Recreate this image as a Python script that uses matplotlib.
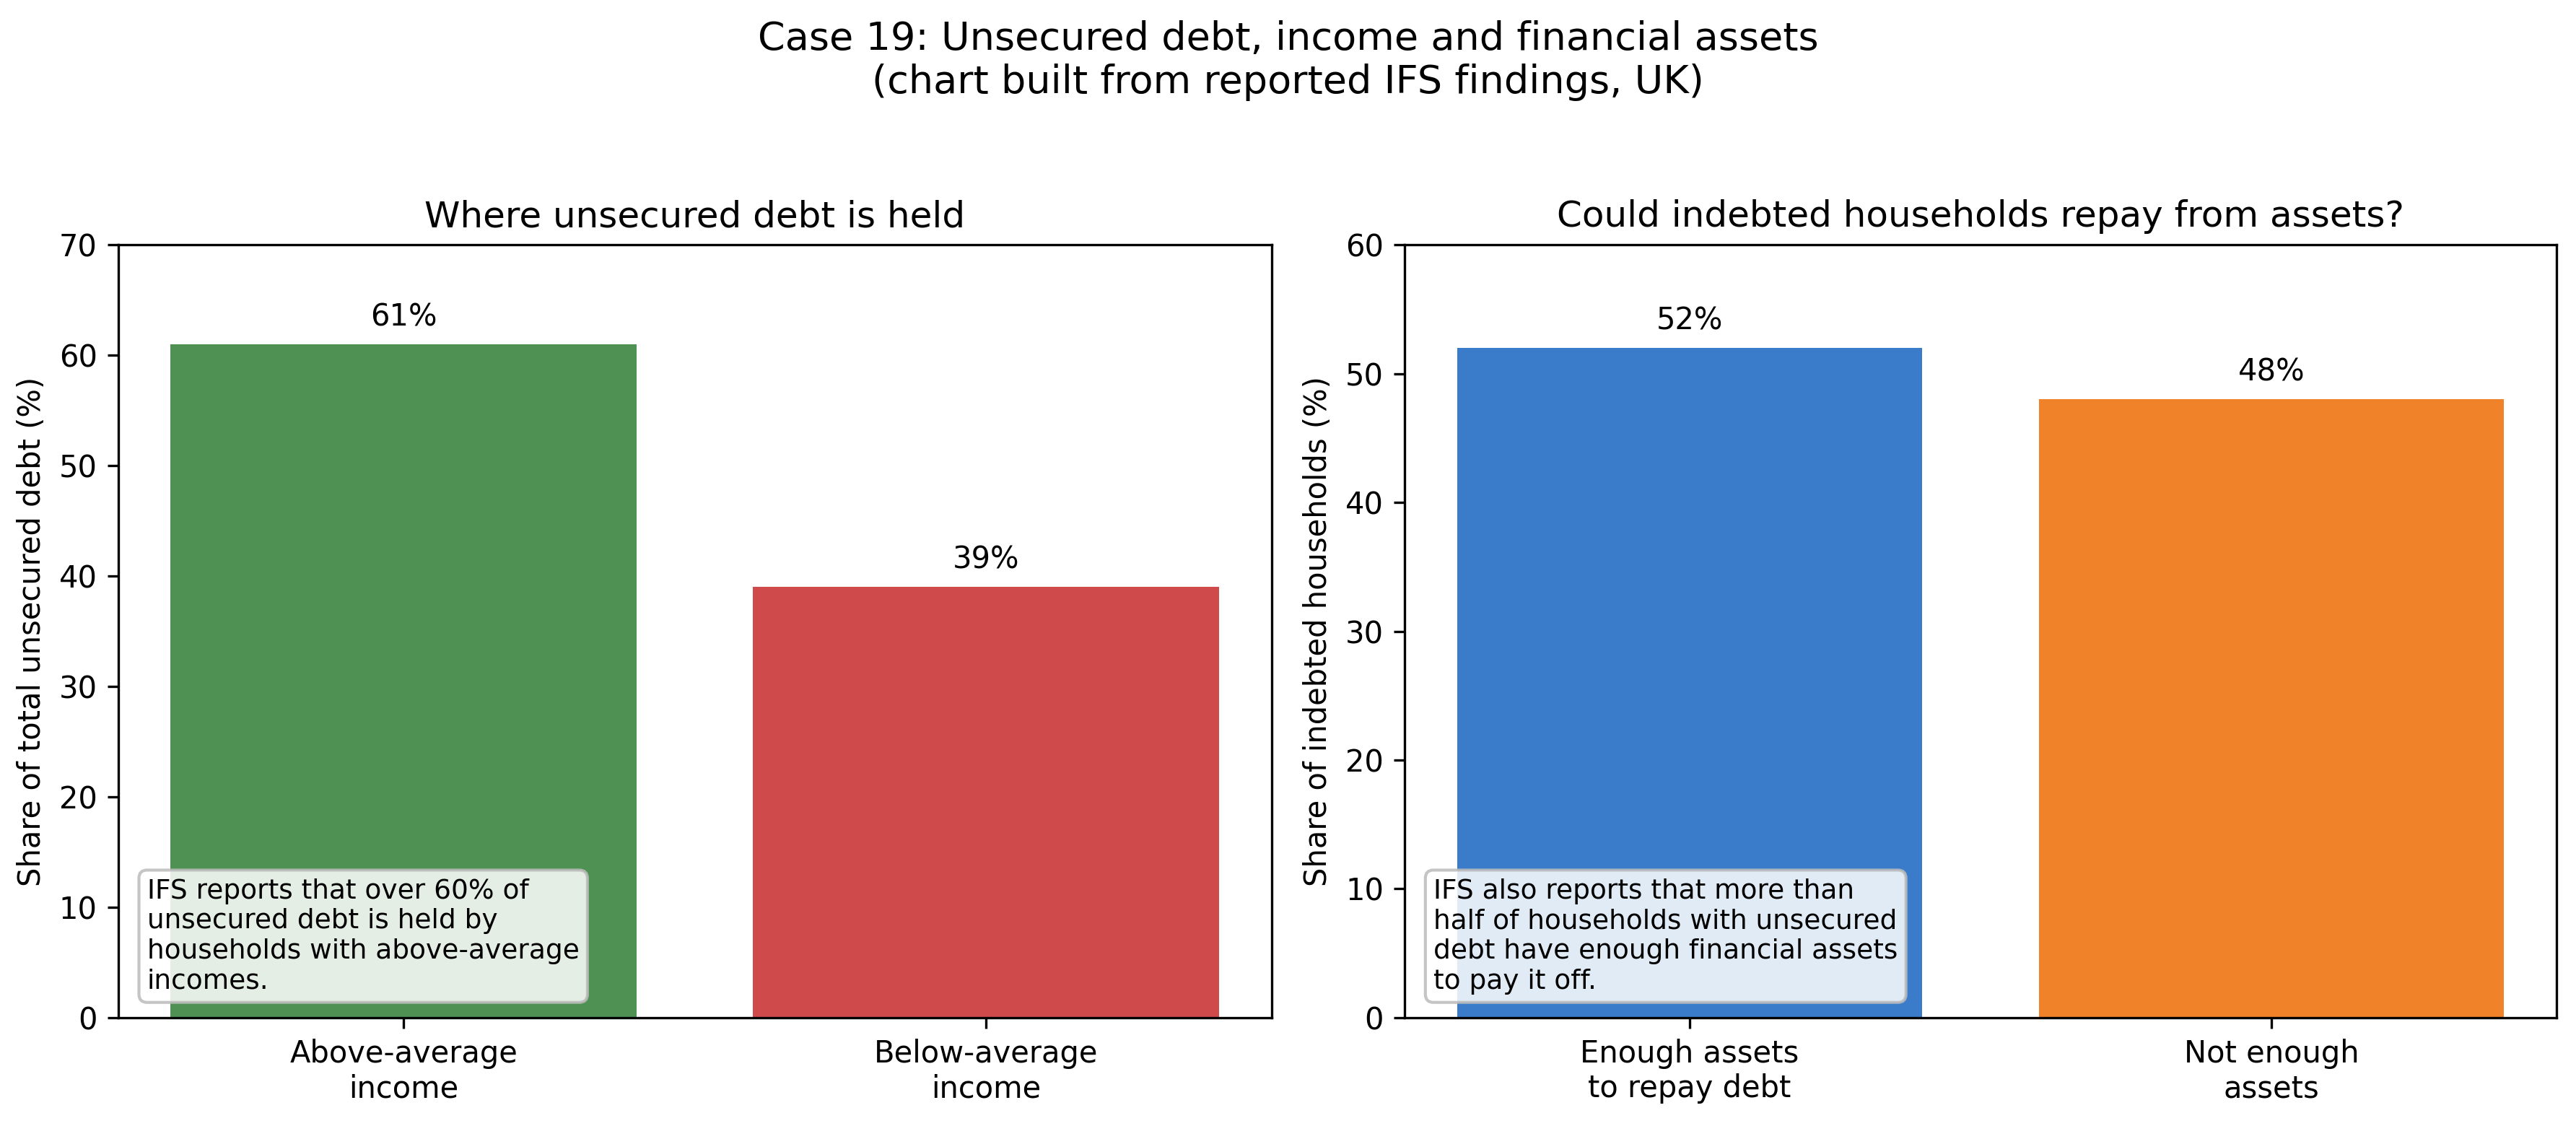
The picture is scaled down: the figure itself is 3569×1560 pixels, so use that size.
import numpy as np
import matplotlib
matplotlib.use("Agg")
import matplotlib.pyplot as plt

# data
income_groups = ["Above-average\nincome", "Below-average\nincome"]
debt_share = [61, 39]
asset_groups = ["Enough assets\nto repay debt", "Not enough\nassets"]
household_share = [52, 48]

colors_left = ["#4f9153", "#cf4a4b"]
colors_right = ["#3a7cc9", "#f0832a"]

note_left = ("IFS reports that over 60% of\nunsecured debt is held by\n"
             "households with above-average\nincomes.")
note_right = ("IFS also reports that more than\nhalf of households with unsecured\n"
              "debt have enough financial assets\nto pay it off.")

fig = plt.figure(figsize=(3569 / 300, 1560 / 300), dpi=300)
ax1 = fig.add_axes([0.0459, 0.0964, 0.4477, 0.686])
ax2 = fig.add_axes([0.5453, 0.0964, 0.4471, 0.686])

fig.suptitle("Case 19: Unsecured debt, income and financial assets\n"
             "(chart built from reported IFS findings, UK)", fontsize=13, y=0.982)


def draw(ax, cats, vals, cols, title, ylabel, ymax, note):
    x = np.arange(len(cats))
    bars = ax.bar(x, vals, color=cols, width=0.8)
    ax.bar_label(bars, labels=[f"{v}%" for v in vals], padding=4, fontsize=10)
    ax.set_xticks(x)
    ax.set_xticklabels(cats)
    ax.set_ylim(0, ymax)
    ax.set_title(title, fontsize=12)
    ax.set_ylabel(ylabel)
    ax.text(0.025, 0.03, note, transform=ax.transAxes, fontsize=9,
            va="bottom", ha="left",
            bbox=dict(boxstyle="round,pad=0.3", facecolor="white",
                      edgecolor="#bbbbbb", alpha=0.85))


draw(ax1, income_groups, debt_share, colors_left, "Where unsecured debt is held",
     "Share of total unsecured debt (%)", 70, note_left)
draw(ax2, asset_groups, household_share, colors_right,
     "Could indebted households repay from assets?",
     "Share of indebted households (%)", 60, note_right)

fig.savefig("out.png", dpi=300)
